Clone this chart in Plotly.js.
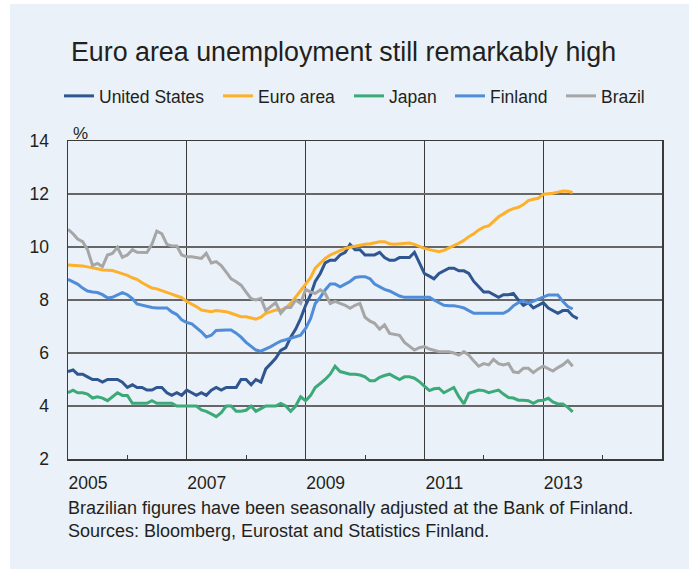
<!DOCTYPE html>
<html><head><meta charset="utf-8">
<script src="https://cdn.plot.ly/plotly-3.0.1.min.js"></script>
<style>html,body{margin:0;padding:0;background:#fff}</style>
</head><body>
<div id="chart" style="width:689px;height:573px"></div>
<script>
const startMonth = "2005-01";
const unitedStates = [
 5.3,5.36,5.2,5.2,5.1,5.0,5.0,4.9,5.0,5.0,5.0,4.9,
 4.7,4.8,4.7,4.7,4.6,4.6,4.7,4.7,4.5,4.4,4.5,4.4,
 4.6,4.5,4.4,4.5,4.4,4.6,4.7,4.6,4.7,4.7,4.7,5.0,
 5.0,4.8,5.0,4.9,5.4,5.6,5.8,6.1,6.2,6.6,6.9,7.3,
 7.8,8.2,8.7,9.0,9.4,9.5,9.5,9.7,9.8,10.1,9.9,9.9,
 9.7,9.7,9.7,9.8,9.6,9.5,9.5,9.6,9.6,9.6,9.8,9.4,
 9.0,8.9,8.8,9.0,9.1,9.2,9.2,9.1,9.1,9.0,8.7,8.5,
 8.3,8.3,8.2,8.1,8.2,8.2,8.25,8.0,7.8,7.9,7.7,7.8,
 7.9,7.7,7.6,7.5,7.6,7.6,7.4,7.3];
const euroArea = [
 9.32,9.31,9.3,9.28,9.25,9.22,9.18,9.13,9.12,9.11,9.05,9.0,
 8.93,8.84,8.78,8.65,8.55,8.45,8.42,8.36,8.3,8.22,8.15,8.09,
 7.94,7.85,7.75,7.62,7.6,7.56,7.6,7.58,7.56,7.5,7.43,7.37,
 7.37,7.33,7.28,7.35,7.5,7.56,7.62,7.62,7.7,7.87,8.1,8.35,
 8.6,8.85,9.2,9.4,9.57,9.7,9.79,9.87,9.95,9.99,10.03,10.08,
 10.1,10.12,10.15,10.2,10.2,10.12,10.1,10.12,10.15,10.15,10.1,10.02,
 9.95,9.9,9.85,9.82,9.87,9.95,10.05,10.14,10.25,10.39,10.5,10.64,
 10.75,10.8,10.95,11.14,11.25,11.37,11.45,11.5,11.6,11.75,11.8,11.84,
 11.99,12.0,12.03,12.07,12.11,12.1,12.06];
const japan = [
 4.5,4.6,4.5,4.5,4.45,4.3,4.35,4.3,4.2,4.35,4.5,4.4,
 4.4,4.1,4.1,4.1,4.1,4.2,4.1,4.1,4.1,4.1,4.0,4.0,
 4.0,4.0,4.0,3.85,3.8,3.7,3.6,3.75,4.0,4.0,3.8,3.8,
 3.84,4.0,3.8,3.9,4.0,4.0,4.0,4.1,4.0,3.8,4.0,4.35,
 4.2,4.4,4.7,4.85,5.0,5.2,5.5,5.3,5.25,5.2,5.2,5.17,
 5.1,4.95,4.95,5.08,5.15,5.2,5.1,5.0,5.1,5.1,5.05,4.92,
 4.75,4.58,4.65,4.67,4.5,4.6,4.7,4.35,4.08,4.48,4.55,4.6,
 4.58,4.5,4.55,4.6,4.45,4.32,4.3,4.22,4.22,4.2,4.1,4.2,
 4.22,4.29,4.15,4.08,4.08,3.95,3.78];
const finland = [
 8.78,8.7,8.6,8.45,8.34,8.3,8.28,8.2,8.08,8.1,8.2,8.28,
 8.2,8.05,7.85,7.8,7.78,7.72,7.7,7.7,7.7,7.55,7.45,7.25,
 7.15,7.1,6.95,6.8,6.6,6.67,6.85,6.87,6.87,6.87,6.75,6.6,
 6.4,6.25,6.11,6.07,6.15,6.24,6.35,6.45,6.5,6.55,6.6,6.67,
 6.93,7.3,7.87,8.1,8.38,8.6,8.6,8.5,8.6,8.7,8.85,8.88,
 8.88,8.8,8.6,8.5,8.4,8.34,8.25,8.15,8.1,8.1,8.1,8.1,
 8.1,8.1,8.0,7.9,7.8,7.78,7.78,7.75,7.7,7.6,7.5,7.5,
 7.5,7.5,7.5,7.5,7.5,7.6,7.78,7.9,7.97,7.87,7.95,8.0,
 8.1,8.19,8.19,8.19,7.95,7.75,7.66];
const brazil = [
 10.67,10.5,10.3,10.2,9.9,9.3,9.38,9.26,9.7,9.76,9.99,9.61,
 9.7,9.9,9.8,9.79,9.79,10.1,10.6,10.5,10.1,10.04,10.04,9.7,
 9.63,9.63,9.6,9.57,9.76,9.4,9.45,9.3,9.05,8.8,8.69,8.56,
 8.3,8.05,8.0,8.06,7.6,7.75,7.9,7.5,7.72,7.72,8.0,7.87,
 8.4,8.3,8.25,8.38,8.25,7.87,7.95,7.87,7.8,7.69,7.8,7.87,
 7.35,7.2,7.12,6.9,7.06,6.74,6.7,6.67,6.4,6.24,6.11,6.2,
 6.24,6.15,6.11,6.05,6.05,6.05,6.0,5.92,6.05,5.92,5.7,5.5,
 5.6,5.55,5.76,5.6,5.55,5.6,5.29,5.26,5.42,5.42,5.26,5.4,
 5.5,5.42,5.32,5.45,5.55,5.71,5.5];
const seriesNames = ["United States","Euro area","Japan","Finland","Brazil"];
const seriesColors = ["#2F5690","#FDB12A","#3BAA78","#4F8DD9","#A6A6A6"];
const yTicks = [2,4,6,8,10,12,14];
const titleText = "Euro area unemployment still remarkably high";
const unitLabel = "%";
const footnote = "Brazilian figures have been seasonally adjusted at the Bank of Finland.<br>Sources: Bloomberg, Eurostat and Statistics Finland.";

function months(n){
  const [y0,m0] = startMonth.split("-").map(Number);
  const out=[];
  for(let i=0;i<n;i++){const t=(m0-1)+i;const y=y0+Math.floor(t/12);const m=(t%12)+1;out.push(y+"-"+String(m).padStart(2,"0")+"-01");}
  return out;
}
const allSeries=[unitedStates,euroArea,japan,finland,brazil];
const legendIds=["legend","legend2","legend3","legend4","legend5"];
const traces=allSeries.map((s,i)=>({
  type:"scatter",mode:"lines",x:months(s.length),y:s,name:seriesNames[i],
  line:{color:seriesColors[i],width:3},legend:legendIds[i],hoverinfo:"skip"
}));
const legendTextX=[99,258,389,490,601];
const BG="#EAF1F8";
const FONT="Liberation Sans, Arial, sans-serif";
const layout={
  width:689,height:573,
  margin:{l:68,r:27,t:141,b:114,pad:0},
  paper_bgcolor:"#ffffff",plot_bgcolor:BG,
  font:{family:FONT,color:"#231f20",size:17},
  title:{text:titleText,font:{family:FONT,size:26.8,color:"#231f20"},x:71/689,xref:"container",xanchor:"left",y:1-52/573,yref:"container",yanchor:"middle"},
  xaxis:{type:"date",range:["2005-01-01","2015-01-01"],tick0:"2005-01-01",dtick:"M24",tickformat:"%Y",
    showgrid:true,gridcolor:"#3a3a3a",gridwidth:1,zeroline:false,showline:true,linecolor:"#3a3a3a",linewidth:1.5,mirror:true,
    ticks:"",ticklabelshift:20,ticklabelstandoff:7,tickfont:{size:17.5,color:"#231f20"},
    minor:{dtick:"M12",tick0:"2005-01-01",ticks:"inside",ticklen:4,tickcolor:"#3a3a3a",tickwidth:1,showgrid:false},fixedrange:true},
  yaxis:{range:[2,14],tickvals:yTicks,ticktext:yTicks.map(String),showgrid:true,gridcolor:"#666666",gridwidth:1.3,zeroline:false,
    showline:true,linecolor:"#3a3a3a",linewidth:1.5,mirror:true,ticks:"",ticklabelstandoff:14,tickfont:{size:17.5,color:"#231f20"},fixedrange:true},
  showlegend:true,
  shapes:[{type:"rect",xref:"paper",yref:"paper",x0:(10-68)/594,x1:(695-68)/594,y0:(459-569)/318,y1:(459-4)/318,fillcolor:BG,line:{width:0},layer:"below"}],
  annotations:[
    {text:unitLabel,xref:"paper",yref:"paper",x:0,y:(459-134)/318,xanchor:"left",yanchor:"middle",xshift:3,showarrow:false,font:{size:17,color:"#231f20"}},
    {text:footnote,xref:"paper",yref:"paper",x:0,y:(459-519)/318,xanchor:"left",yanchor:"middle",align:"left",xshift:-2,showarrow:false,font:{size:18,color:"#231f20"}}
  ]
};
legendIds.forEach((id,i)=>{
  layout[id]={x:(legendTextX[i]-40)/689,xref:"container",y:1-96/573,yref:"container",xanchor:"left",yanchor:"middle",
    orientation:"h",bgcolor:"rgba(0,0,0,0)",borderwidth:0,font:{family:FONT,size:17.5,color:"#231f20"},itemwidth:30};
});
Plotly.newPlot("chart",traces,layout,{staticPlot:true,displayModeBar:false});
</script>
</body></html>
